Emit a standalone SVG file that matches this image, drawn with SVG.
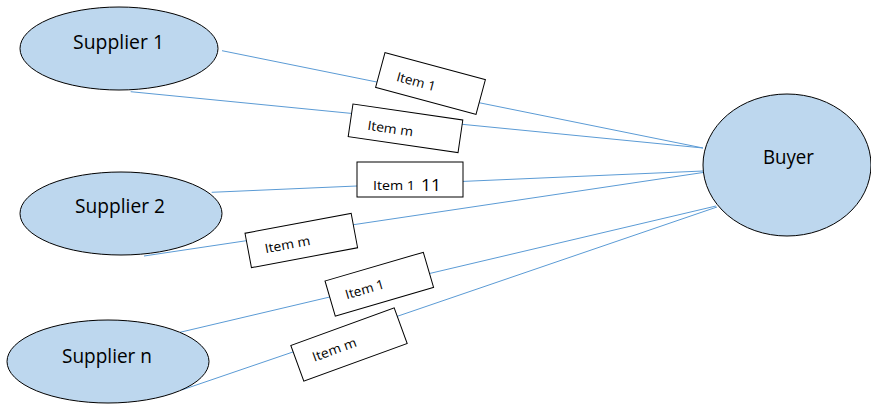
<svg xmlns="http://www.w3.org/2000/svg" width="871" height="406" viewBox="0 0 871 406">
<style>
.node{fill:#BDD7EE;stroke:#000;stroke-width:1}
.lbl{font-family:"Open Sans","Noto Sans",sans-serif;font-size:19.5px;fill:#000}
.box{fill:#fff;stroke:#000;stroke-width:1}
.it{font-family:"Open Sans","Noto Sans",sans-serif;font-size:13px;fill:#000}
.big{font-family:"Open Sans","Noto Sans",sans-serif;font-size:16.5px;fill:#000}
.con{stroke:#5B9BD5;stroke-width:1;fill:none}
</style>
<rect width="871" height="406" fill="#fff"/>
<g id="connectors">
<line class="con" x1="222" y1="50.7" x2="703" y2="148"/>
<line class="con" x1="130.7" y1="91.7" x2="703" y2="148"/>
<line class="con" x1="211.7" y1="192.3" x2="703" y2="171"/>
<line class="con" x1="144" y1="256" x2="703" y2="172.5"/>
<line class="con" x1="180" y1="332.3" x2="716" y2="206"/>
<line class="con" x1="181.7" y1="390" x2="717" y2="207"/>
</g>
<g id="supplier1">
<ellipse class="node" cx="119" cy="48.5" rx="99" ry="41.5"/>
<text class="lbl" x="73" y="49" textLength="91" lengthAdjust="spacingAndGlyphs">Supplier 1</text>
</g>
<g id="supplier2">
<ellipse class="node" cx="121" cy="213.5" rx="101" ry="41.5"/>
<text class="lbl" x="75" y="213" textLength="90" lengthAdjust="spacingAndGlyphs">Supplier 2</text>
</g>
<g id="suppliern">
<ellipse class="node" cx="108" cy="361.5" rx="101" ry="41.5"/>
<text class="lbl" x="62" y="362.5" textLength="90" lengthAdjust="spacingAndGlyphs">Supplier n</text>
</g>
<g id="buyer">
<ellipse class="node" cx="787" cy="165" rx="84" ry="71"/>
<text class="lbl" x="763" y="164" textLength="51" lengthAdjust="spacingAndGlyphs">Buyer</text>
</g>
<g id="item1a" transform="translate(430.5,83.5) rotate(15.1)">
<rect class="box" x="-52" y="-18" width="104" height="36"/>
<text class="it" x="-34.3" y="6.4" textLength="40" lengthAdjust="spacingAndGlyphs">Item 1</text>
</g>
<g id="itemma" transform="translate(405.5,128.3) rotate(8.3)">
<rect class="box" x="-55.5" y="-16.5" width="111" height="33"/>
<text class="it" x="-38" y="7" textLength="46" lengthAdjust="spacingAndGlyphs">Item m</text>
</g>
<g id="item1b">
<rect class="box" x="357" y="162" width="106" height="35"/>
<text class="it" x="373" y="190" textLength="42" lengthAdjust="spacingAndGlyphs">Item 1 </text>
<text class="big" x="421" y="190.5" textLength="20" lengthAdjust="spacingAndGlyphs">11</text>
</g>
<g id="itemmb" transform="translate(301.3,240.5) rotate(-10.6)">
<rect class="box" x="-54" y="-17.5" width="108" height="35"/>
<text class="it" x="-37.4" y="6" textLength="46" lengthAdjust="spacingAndGlyphs">Item m</text>
</g>
<g id="item1c" transform="translate(379.3,284.2) rotate(-16.3)">
<rect class="box" x="-51.2" y="-18.3" width="102.4" height="36.6"/>
<text class="it" x="-35.4" y="5.4" textLength="40" lengthAdjust="spacingAndGlyphs">Item 1</text>
</g>
<g id="itemmc" transform="translate(349,344.5) rotate(-20)">
<rect class="box" x="-55" y="-19" width="110" height="38"/>
<text class="it" x="-38.5" y="4.3" textLength="46" lengthAdjust="spacingAndGlyphs">Item m</text>
</g>
</svg>
